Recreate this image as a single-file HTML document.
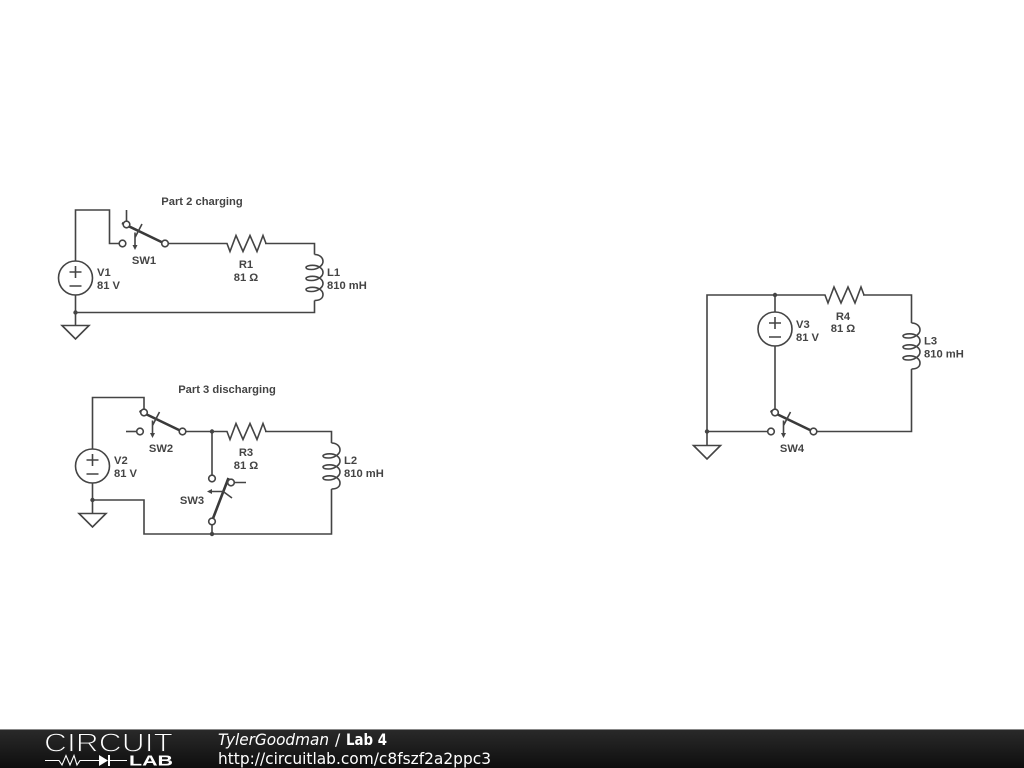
<!DOCTYPE html>
<html>
<head>
<meta charset="utf-8">
<style>
html,body{margin:0;padding:0;width:1024px;height:768px;overflow:hidden;background:#fff}
svg{display:block;position:absolute;left:0;top:0}
.w{fill:none;stroke:#444;stroke-width:1.6}
.t{fill:#fff;stroke:#444;stroke-width:1.6}
.a{fill:none;stroke:#3a3a3a;stroke-width:2.6}
.l{font:bold 11.2px "Liberation Sans",sans-serif;fill:#444}
.f{font:15.6px "DejaVu Sans",sans-serif;fill:#fff}
</style>
</head>
<body>
<svg width="1024" height="768" viewBox="0 0 1024 768" xmlns="http://www.w3.org/2000/svg">
<defs>
  <g id="res"><path class="w" d="M0,0H1L4,8L10,-8L17,8L24,-8L31,8L37,-8L40,0"/></g>
  <g id="ind"><path class="w" d="M0,0C5,0 8.500,3 8.500,7C8.500,11 3,15 -3,15C-6.500,15 -8.500,14.500 -8.500,13C-8.500,11.500 -5,10.800 -2,10.800C4,10.800 8.500,14 8.500,18C8.500,22 3,26 -3,26C-6.500,26 -8.500,25.500 -8.500,24C-8.500,22.500 -5,21.800 -2,21.800C4,21.800 8.500,25 8.500,29C8.500,33 3,37 -3,37C-6.500,37 -8.500,36.500 -8.500,35C-8.500,33.500 -5,32.800 -2,32.800C4,32.800 8.500,36 8.500,40C8.500,44 5,46 0,46"/></g>
  <g id="vs">
    <circle class="w" cx="0" cy="0" r="17"/>
    <path class="w" d="M-6,-6H6M0,-12V0M-6,8H6"/>
  </g>
  <g id="gnd"><path class="w" d="M-13.500,0H13.500L0,13.500Z"/></g>
  <g id="sw">
    <path class="a" d="M-4.500,-1.500L36,18"/>
    <path class="w" d="M15.500,-0.500L8.500,13M8.500,8V21"/>
    <path d="M6,20.500H11L8.500,25.500Z" fill="#444"/>
    <circle class="t" cx="0" cy="0" r="3.300"/>
    <circle class="t" cx="-4" cy="19" r="3.300"/>
    <circle class="t" cx="38.500" cy="19" r="3.300"/>
  </g>
  <linearGradient id="fg" x1="0" y1="0" x2="0" y2="1">
    <stop offset="0" stop-color="#2a2a2a"/>
    <stop offset="1" stop-color="#0a0a0a"/>
  </linearGradient>
</defs>
<g style="filter:blur(0.35px)">

<!-- Circuit 1 -->
<path class="w" d="M75.500,261V210H109.500V243.500H119"/>
<path class="w" d="M126.500,210V222"/>
<path class="w" d="M168,243.500H226M265,243.500H314.500V254.500M314.500,300.500V312.500H75.500V295M75.500,312.500V325"/>
<use href="#res" x="226" y="243.500"/>
<use href="#ind" x="314.500" y="254.500"/>
<use href="#vs" x="75.500" y="278"/>
<use href="#gnd" x="75.500" y="325.500"/>
<circle cx="75.500" cy="312.500" r="2.200" fill="#444"/>
<use href="#sw" x="126.500" y="224.500"/>
<text class="l" x="202" y="205" text-anchor="middle">Part 2 charging</text>
<text class="l" x="144" y="264" text-anchor="middle">SW1</text>
<text class="l" x="246" y="268" text-anchor="middle">R1</text>
<text class="l" x="246" y="281" text-anchor="middle">81 Ω</text>
<text class="l" x="97" y="276">V1</text>
<text class="l" x="97" y="289">81 V</text>
<text class="l" x="327" y="276">L1</text>
<text class="l" x="327" y="289">810 mH</text>

<!-- Circuit 2 -->
<path class="w" d="M92.500,449V397.500H144V409"/>
<path class="w" d="M126,431.500H136.500"/>
<path class="w" d="M185,431.500H226M265,431.500H331.500V443M331.500,489V534H144V500H92.500V483M92.500,500V513"/>
<path class="w" d="M212,431.500V475M212,525V534"/>
<use href="#res" x="226" y="431.500"/>
<use href="#ind" x="331.500" y="443"/>
<use href="#vs" x="92.500" y="466"/>
<use href="#gnd" x="92.500" y="513.500"/>
<use href="#sw" x="144" y="412.500"/>
<circle cx="92.500" cy="500" r="2.200" fill="#444"/>
<circle cx="212" cy="431.500" r="2.200" fill="#444"/>
<circle cx="212" cy="534" r="2.200" fill="#444"/>
<!-- SW3 -->
<path class="a" d="M212,521L228.500,478"/>
<path class="w" d="M222.500,491L232,498M223,491.500H211M234,482.500H246"/>
<path d="M212,489L207,491.500L212,494Z" fill="#444"/>
<circle class="t" cx="212" cy="478.500" r="3.300"/>
<circle class="t" cx="212" cy="521.500" r="3.300"/>
<circle class="t" cx="231" cy="482.500" r="3.300"/>
<text class="l" x="227" y="393" text-anchor="middle">Part 3 discharging</text>
<text class="l" x="161" y="452" text-anchor="middle">SW2</text>
<text class="l" x="192" y="504" text-anchor="middle">SW3</text>
<text class="l" x="246" y="456" text-anchor="middle">R3</text>
<text class="l" x="246" y="469" text-anchor="middle">81 Ω</text>
<text class="l" x="114" y="464">V2</text>
<text class="l" x="114" y="477">81 V</text>
<text class="l" x="344" y="464">L2</text>
<text class="l" x="344" y="477">810 mH</text>

<!-- Circuit 3 -->
<path class="w" d="M824,295H707V445M707,431.500H767M775,295V312M775,346V409"/>
<path class="w" d="M863,295H911.500V323M911.500,369V431.500H816"/>
<use href="#res" x="824" y="295"/>
<use href="#ind" x="911.500" y="323"/>
<use href="#vs" x="775" y="329"/>
<use href="#gnd" x="707" y="445.500"/>
<use href="#sw" x="775" y="412.500"/>
<circle cx="775" cy="295" r="2.200" fill="#444"/>
<circle cx="707" cy="431.500" r="2.200" fill="#444"/>
<text class="l" x="792" y="452" text-anchor="middle">SW4</text>
<text class="l" x="843" y="320" text-anchor="middle">R4</text>
<text class="l" x="843" y="332" text-anchor="middle">81 Ω</text>
<text class="l" x="796" y="328">V3</text>
<text class="l" x="796" y="341">81 V</text>
<text class="l" x="924" y="344.500">L3</text>
<text class="l" x="924" y="357.500">810 mH</text>

<!-- Footer -->
<rect x="-5" y="729" width="1034" height="45" fill="url(#fg)"/>
<rect x="-5" y="729" width="1034" height="1" fill="#888"/>
<text x="44" y="751.500" font-family="Liberation Sans, sans-serif" font-size="25.500" fill="#fff" stroke="#222" stroke-width="1" textLength="129" lengthAdjust="spacingAndGlyphs">CIRCUIT</text>
<path d="M45,760.500H59L62,765L66,755.500L70,765L74,755.500L77,765L80,760.500H99M110,760.500H127" fill="none" stroke="#fff" stroke-width="1.100"/>
<path d="M99,755V766L108,760.500Z" fill="#fff"/>
<rect x="108" y="755" width="2" height="11" fill="#fff"/>
<text x="129" y="765.500" font-family="Liberation Sans, sans-serif" font-weight="bold" font-size="14.500" fill="#fff" textLength="44" lengthAdjust="spacingAndGlyphs">LAB</text>
<text class="f" x="218" y="745" style="font-style:italic" textLength="111" lengthAdjust="spacingAndGlyphs">TylerGoodman</text>
<text class="f" x="335" y="745">/</text>
<text class="f" x="346" y="745" style="font-weight:bold" textLength="41" lengthAdjust="spacingAndGlyphs">Lab 4</text>
<text class="f" x="218" y="764" textLength="273" lengthAdjust="spacingAndGlyphs">http://circuitlab.com/c8fszf2a2ppc3</text>
</g>
</svg>
</body>
</html>
